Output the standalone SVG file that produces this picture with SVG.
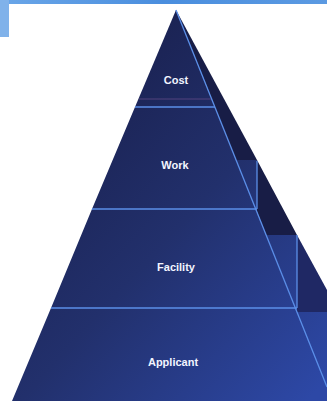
<svg xmlns="http://www.w3.org/2000/svg" width="327" height="401" viewBox="0 0 327 401">
<defs>
<linearGradient id="front" gradientUnits="userSpaceOnUse" x1="40" y1="120" x2="327" y2="380">
<stop offset="0" stop-color="#1a2150"/>
<stop offset="0.45" stop-color="#22306c"/>
<stop offset="1" stop-color="#2d48a6"/>
</linearGradient>
<linearGradient id="band" x1="0" y1="0" x2="1" y2="0">
<stop offset="0" stop-color="#6aa6e8"/>
<stop offset="0.5" stop-color="#4a8ede"/>
<stop offset="1" stop-color="#5b9ae2"/>
</linearGradient>
<style>
.face{fill:url(#front)}
.side{fill:#181d46}
.edge{stroke:#5b8fe8;stroke-width:1.3;fill:none}
.lbl{font-family:"Liberation Sans",Arial,sans-serif;font-weight:bold;font-size:11px;fill:#f2f5ff;text-anchor:middle}
</style>
</defs>
<rect width="327" height="401" fill="#ffffff"/>
<rect x="0" y="0" width="327" height="4" fill="url(#band)"/>
<rect x="0" y="0" width="9" height="37" fill="#80b2ea"/>
<g id="cost">
<polygon class="face" points="176,10 215,107 135,107"/>
<text class="lbl" x="176" y="84">Cost</text>
</g>
<g id="work">
<polygon class="face" points="135,107 215,107 236,160 257,160 257,209 92,209"/>
<polygon class="side" points="176,10 257,160 236,160"/>
<text class="lbl" x="175" y="169">Work</text>
</g>
<g id="facility">
<polygon class="face" points="92,209 257,209 257,212 266,235 297,235 297,308 51,308"/>
<polygon class="side" points="257,160 297,235 266,235 257,212"/>
<text class="lbl" x="176" y="271">Facility</text>
</g>
<g id="applicant">
<polygon class="face" points="51,308 297,308 297,312 327,312 327,401 12,401"/>
<polygon points="297,235 327,290 327,312 297,312" fill="#1f2864"/>
<text class="lbl" x="173" y="366">Applicant</text>
</g>
<g id="edges">
<line class="edge" x1="176" y1="10" x2="327" y2="387"/>
<line class="edge" x1="135" y1="107" x2="215" y2="107"/>
<line x1="139" y1="99" x2="211" y2="99" stroke="#6a4f8c" stroke-width="1" opacity="0.7"/>
<line class="edge" x1="92" y1="209" x2="257" y2="209"/>
<line class="edge" x1="257" y1="161" x2="257" y2="209"/>
<line class="edge" x1="51" y1="308" x2="297" y2="308"/>
<line class="edge" x1="297" y1="235" x2="297" y2="308"/>
</g>
</svg>
